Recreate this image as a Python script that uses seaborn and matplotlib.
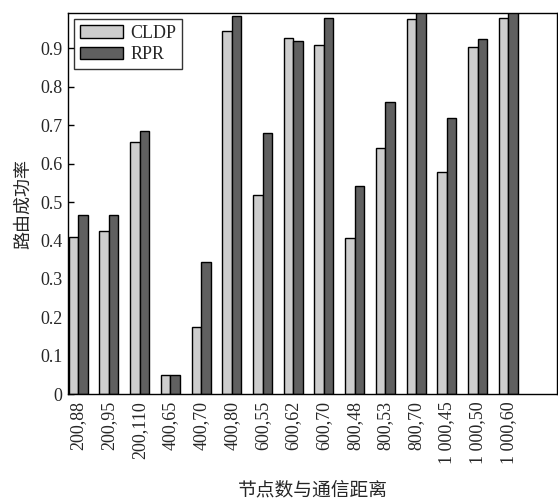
import matplotlib
matplotlib.use('Agg')
import matplotlib.pyplot as plt
import seaborn as sns
import pandas as pd

# values
categories = ["200,88", "200,95", "200,110", "400,65", "400,70", "400,80",
              "600,55", "600,62", "600,70", "800,48", "800,53", "800,70",
              "1 000,45", "1 000,50", "1 000,60"]
cldp = [0.41, 0.425, 0.656, 0.05, 0.175, 0.945, 0.518, 0.927, 0.909,
        0.406, 0.64, 0.977, 0.578, 0.903, 0.979]
rpr = [0.466, 0.466, 0.685, 0.05, 0.344, 0.984, 0.68, 0.919, 0.98,
       0.542, 0.76, 1.0, 0.72, 0.924, 1.0]
series = ["CLDP", "RPR"]
yticks = [0, 0.1, 0.2, 0.3, 0.4, 0.5, 0.6, 0.7, 0.8, 0.9]
ytick_labels = ["0", "0.1", "0.2", "0.3", "0.4", "0.5", "0.6", "0.7", "0.8", "0.9"]

df = pd.DataFrame({
    "cat": categories * 2,
    "val": cldp + rpr,
    "method": [series[0]] * len(cldp) + [series[1]] * len(rpr),
})

sns.set_style("ticks")
plt.rcParams['font.family'] = ['Liberation Serif', 'Noto Sans CJK SC']
cjk = ['Noto Sans CJK SC', 'DejaVu Sans']

fig = plt.figure(figsize=(5.58, 5.04), dpi=100)
ax = fig.add_axes([0.122, 0.218, 0.877, 0.756])

sns.barplot(data=df, x="cat", y="val", hue="method", order=categories,
            hue_order=series, palette=["#cdcdcd", "#606060"],
            width=0.62, edgecolor="black", linewidth=1.0, ax=ax)

ax.set_xlim(-0.33, 15.6)
ax.set_ylim(0, 0.992)
ax.set_yticks(yticks)
ax.set_yticklabels(ytick_labels, fontsize=13)
ax.set_xticks(range(len(categories)))
ax.set_xticklabels(categories, rotation=90, fontsize=13)
ax.tick_params(axis='y', direction='in', length=4, width=1, color='black', pad=4)
ax.tick_params(axis='x', length=0, pad=5)
for s in ax.spines.values():
    s.set_visible(True)
    s.set_linewidth(1.0)
    s.set_color('black')

ax.set_ylabel("路由成功率", fontsize=13, family=cjk, labelpad=6)
ax.set_xlabel("节点数与通信距离", fontsize=13.5, family=cjk, labelpad=11)

leg = ax.legend(loc='upper left', fontsize=13, frameon=True, fancybox=False,
                edgecolor='black', handlelength=2.4, handleheight=0.7,
                borderaxespad=0.35, borderpad=0.3, labelspacing=0.25,
                handletextpad=0.4)
leg.get_frame().set_linewidth(1.0)

fig.savefig("out.png", dpi=100)
